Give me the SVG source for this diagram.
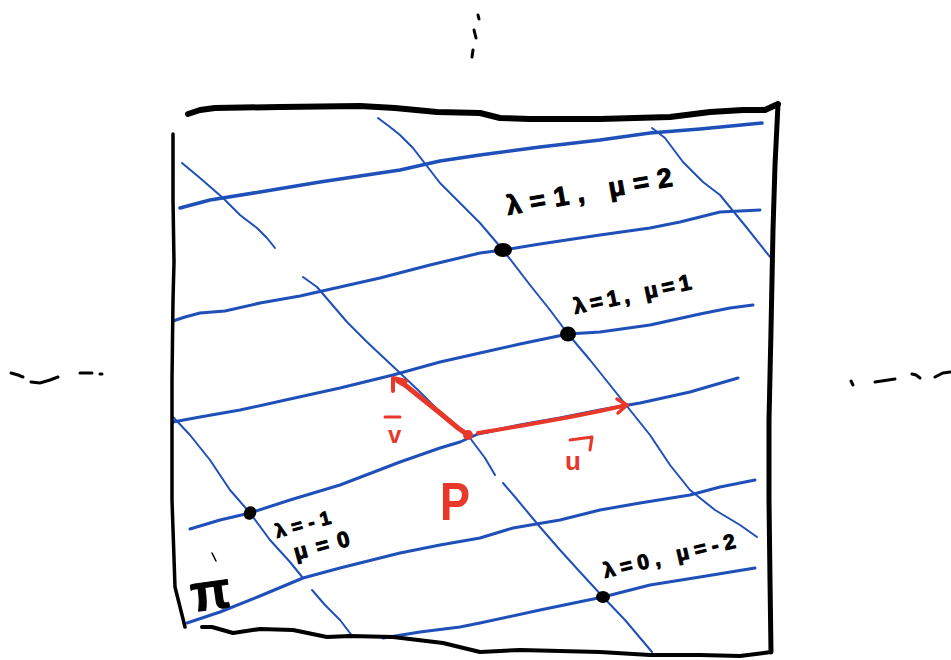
<svg xmlns="http://www.w3.org/2000/svg" width="951" height="660" viewBox="0 0 951 660">
<style>
.frame{fill:none;stroke:#000;stroke-linecap:round;stroke-linejoin:round}
.h{fill:none;stroke:#1f4fb8;stroke-width:3;stroke-linecap:round;stroke-linejoin:round}
.d{fill:none;stroke:#1f4fb8;stroke-width:2;stroke-linecap:round;stroke-linejoin:round}
.mark{fill:none;stroke:#000;stroke-width:3;stroke-linecap:round}
.red{fill:none;stroke:#e8382a;stroke-linecap:round;stroke-linejoin:round}
.lbl{font-family:"Liberation Sans","DejaVu Sans",sans-serif;font-weight:bold;fill:#000;stroke:#000;stroke-width:1;stroke-linejoin:round}
.rlbl{font-family:"Liberation Sans","DejaVu Sans",sans-serif;fill:#e8382a}
</style>
<rect width="951" height="660" fill="#fff"/>

<g id="outside-marks">
<path class="mark" d="M478,15 L479,19"/>
<path class="mark" d="M474,30 L476,38"/>
<path class="mark" d="M473,50 L472,57"/>
<path class="mark" d="M11,373 L18,375 L23,377"/>
<path class="mark" d="M31,382 L40,383 L50,380 L58,377"/>
<path class="mark" d="M80,373 L92,373"/>
<path class="mark" d="M100,374 L102,374"/>
<path class="mark" d="M851,381 L853,385"/>
<path class="mark" d="M875,382 L895,379"/>
<path class="mark" d="M912,374 L916,375 L920,378"/>
<path class="mark" d="M935,377 L943,373 L950,372"/>
</g>

<g id="grid">
<path class="h" style="stroke-width:3.5" d="M180,208 L210,200 L260,192 L320,182 L400,170 L440,161 L480,155 L540,147 L600,140 L650,133 L700,129 L762,123"/>
<path class="h" d="M173,321 L185,317 L200,313 L225,311 L260,303 L300,296 L340,287 L380,278 L430,265 L480,253 L503,250 L540,244 L600,235 L650,228 L680,222 L720,212 L760,210"/>
<path class="h" d="M173,422 L200,417 L240,410 L290,399 L340,388 L393,375 L440,362 L480,353 L520,344 L568,334 L600,332 L650,325 L700,314 L730,308 L753,305"/>
<path class="h" d="M190,529 L220,520 L250,513 L290,500 L340,485 L400,462 L440,448 L460,442 L478,434 L520,425 L560,418 L600,410 L640,403 L690,392 L738,378"/>
<path class="h" d="M187,623 L220,612 L260,596 L303,578 L340,568 L400,553 L440,545 L480,538 L513,528 L560,520 L600,510 L640,503 L690,495 L720,487 L755,480"/>
<path class="h" d="M383,638 L420,632 L460,627 L480,623 L540,610 L603,597 L650,585 L700,577 L755,568"/>
<path class="d" d="M182,163 L200,178 L223,198 L240,215 L257,228 L267,238 L275,248"/>
<path class="d" d="M652,128 L665,138 L683,162 L703,182 L720,195 L747,228 L770,257"/>
<path class="d" d="M378,118 L390,127 L400,135 L413,148 L440,183 L457,200 L480,223 L503,250 L530,285 L550,310 L568,334 L590,360 L610,385 L630,410 L650,435 L670,465 L690,490 L715,510 L740,525 L757,537"/>
<path class="d" d="M303,277 L317,287 L347,322 L367,342 L400,373 L420,392 L440,412 L460,430 L470,438 L485,458 L495,475 M503,483 L515,497 L540,527 L560,550 L580,572 L603,597 L625,620 L652,652"/>
<path class="d" d="M173,417 L190,435 L210,460 L230,490 L250,513 L270,540 L290,562 L303,578 M312,590 L325,605 L340,620 L353,637"/>
</g>

<g id="frame">
<path class="frame" style="stroke-width:6" d="M188,114 L200,110 L215,108 L280,107 L360,106 L395,108 L437,112 L480,113 L500,118 L530,119 L600,119 L670,117 L710,112 L743,110 L765,110 L778,104"/>
<path class="frame" style="stroke-width:5" d="M778,104 L777,125 L775,165 L773,230 L771,330 L769,420 L769,500 L770,580 L771,652"/>
<path class="frame" style="stroke-width:3.5" d="M173,134 L173,200 L174,262 L173,300 L172,380 L172,500 L175,587 L185,627"/>
<path class="frame" style="stroke-width:4" d="M202,627 L212,627 L233,633 L260,629 L293,630 L327,637 L350,636 L393,637 L443,643 L480,652 L520,650 L560,651 L600,652 L650,655 L700,655 L740,656 L771,652"/>
</g>

<g id="points">
<ellipse cx="503" cy="250" rx="9" ry="7"/>
<ellipse cx="568" cy="334" rx="8" ry="7.5"/>
<ellipse cx="250" cy="513" rx="6" ry="7" transform="rotate(30 250 513)"/>
<ellipse cx="603" cy="597" rx="7" ry="6"/>
</g>

<g id="labels">
<text class="lbl" x="508" y="215" font-size="27" textLength="168" lengthAdjust="spacing" transform="rotate(-10 508 215)">λ=1, μ=2</text>
<text class="lbl" x="575" y="314" font-size="22" textLength="120" lengthAdjust="spacing" transform="rotate(-12 575 314)">λ=1, μ=1</text>
<text class="lbl" x="277" y="538" font-size="19" textLength="57" lengthAdjust="spacing" transform="rotate(-15 277 538)">λ=-1</text>
<text class="lbl" x="296" y="560" font-size="22" textLength="57" lengthAdjust="spacing" transform="rotate(-15 296 560)">μ=0</text>
<text class="lbl" x="605" y="578" font-size="21" textLength="135" lengthAdjust="spacing" transform="rotate(-13 605 578)">λ=0, μ=-2</text>
<text class="lbl" x="193" y="612" font-size="52" transform="rotate(-8 193 612)">π</text>
<path class="mark" style="stroke-width:1.5" d="M212,553 L216,561"/>
</g>

<g id="vectors">
<circle cx="468" cy="435" r="5" fill="#e8382a"/>
<path class="red" style="stroke-width:5" d="M468,435 L458,428 L440,413 L420,397 L405,385 L398,381"/>
<path class="red" style="stroke-width:4" d="M393,391 L393,378 L406,381"/>
<path class="red" style="stroke-width:4" d="M478,433 L520,426 L570,417 L600,411 L627,405"/>
<path class="red" style="stroke-width:3.5" d="M617,399 L627,405 L618,413"/>
<text class="rlbl" x="388" y="443" font-size="24" font-weight="bold">v</text>
<path class="red" style="stroke-width:3" d="M385,417 L400,417"/>
<text class="rlbl" x="565" y="470" font-size="26" font-weight="bold">u</text>
<path class="red" style="stroke-width:3" d="M570,440 L592,437 L590,450"/>
<text class="rlbl" x="440" y="520" font-size="54" font-weight="bold" textLength="30" lengthAdjust="spacingAndGlyphs">P</text>
</g>
</svg>
